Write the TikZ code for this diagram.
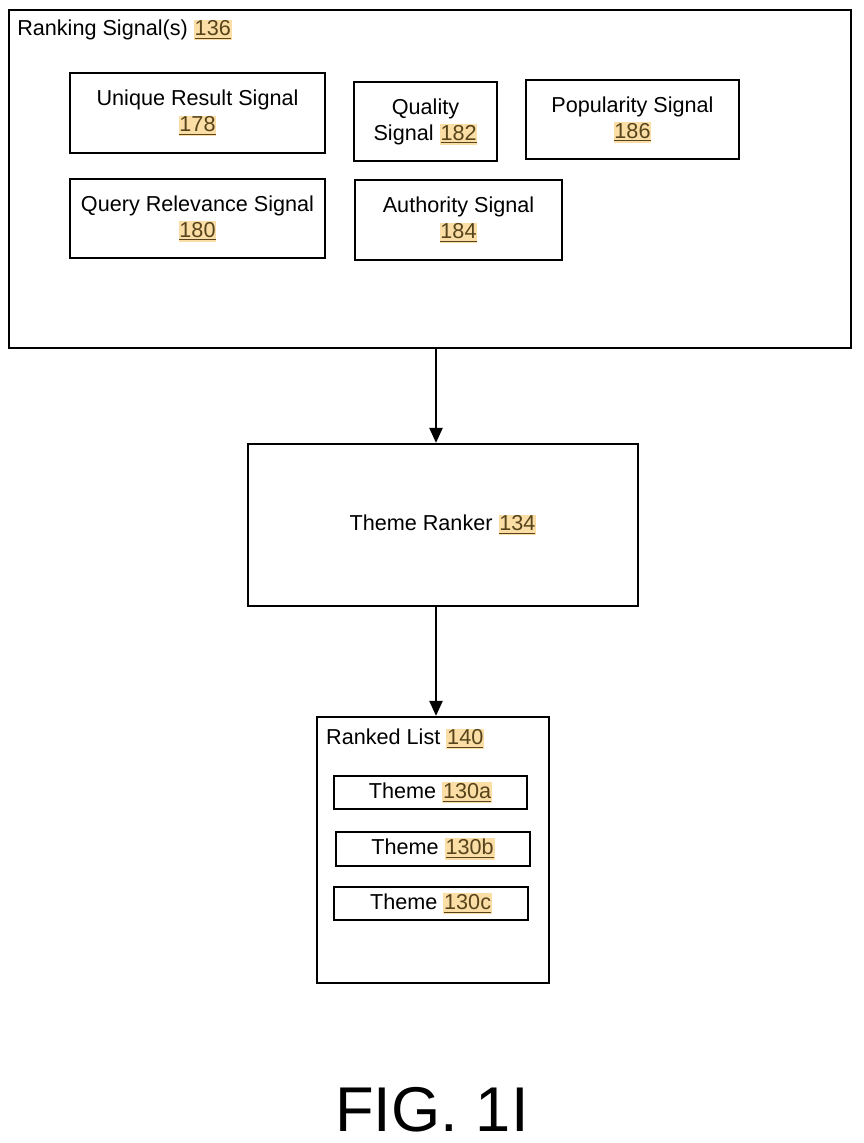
\documentclass[tikz,border=0pt]{standalone}
\usepackage{fontspec}
\setmainfont{Liberation Sans}
\usepackage{xcolor}
\definecolor{refbg}{RGB}{250,222,165}
\definecolor{reffg}{RGB}{88,68,28}
\usepackage{tikz}
\usetikzlibrary{arrows.meta, positioning, calc}
\newcommand{\refnum}[1]{{\setlength{\fboxsep}{0.5pt}\colorbox{refbg}{\textcolor{reffg}{\underline{#1}}}}}

\begin{document}
\begin{tikzpicture}[x=0.02cm, y=-0.02cm,
    sigbox/.style={draw, line width=1.3pt, align=center, inner sep=0pt,
                   font=\fontsize{12.3}{14.8}\selectfont},
    title/.style={anchor=west, inner sep=0pt, font=\fontsize{12.3}{14.8}\selectfont},
    arr/.style={-{Triangle[length=0.3cm, width=0.26cm]}, line width=1.3pt}]
  \useasboundingbox (0,0) rectangle (864,1143);

  % Ranking signals -- outer box and its signals
  \node[sigbox, minimum width=16.84cm, minimum height=6.76cm] (ranksig) at (430,179) {};
  \node[title] (ranksigtitle) at ($(ranksig.north west)+(9,21)$)
       {Ranking Signal(s) \refnum{136}};

  \node[sigbox, minimum width=5.1cm, minimum height=1.6cm] (uniq) at (197.5,113)
       {Unique Result Signal\\ \refnum{178}};
  \node[sigbox, minimum width=2.86cm, minimum height=1.58cm] (quality) at (425.5,121.5)
       {Quality\\ Signal \refnum{182}};
  \node[sigbox, minimum width=4.26cm, minimum height=1.58cm] (popular) at (632.5,119.5)
       {Popularity Signal\\ \refnum{186}};
  \node[sigbox, minimum width=5.1cm, minimum height=1.58cm] (queryrel) at (197.5,218.5)
       {Query Relevance Signal\\ \refnum{180}};
  \node[sigbox, minimum width=4.14cm, minimum height=1.6cm] (authority) at (458.5,220)
       {Authority Signal\\ \refnum{184}};

  % Theme ranker
  \node[sigbox, minimum width=7.8cm, minimum height=3.24cm] (ranker) at (443,525)
       {Theme Ranker \refnum{134}};

  % Ranked list with themes
  \node[sigbox, minimum width=4.64cm, minimum height=5.32cm] (rankedlist) at (433,850) {};
  \node[title] (rankedtitle) at ($(rankedlist.north west)+(10,23)$)
       {Ranked List \refnum{140}};
  \node[sigbox, minimum width=3.86cm, minimum height=0.66cm] (themea) at (430.5,792.5)
       {Theme \refnum{130a}};
  \node[sigbox, minimum width=3.88cm, minimum height=0.68cm] (themeb) at (433,849)
       {Theme \refnum{130b}};
  \node[sigbox, minimum width=3.88cm, minimum height=0.66cm] (themec) at (431,903.5)
       {Theme \refnum{130c}};

  % Downward arrows
  \coordinate (axis) at (436,0);
  \draw[arr] (ranksig.south -| axis) -- (ranker.north -| axis);
  \draw[arr] (ranker.south -| axis) -- (rankedlist.north -| axis);

  % Figure caption
  \node[font=\fontsize{36}{40}\selectfont] (figlabel) at (432,1110) {FIG. 1I};
\end{tikzpicture}
\end{document}
